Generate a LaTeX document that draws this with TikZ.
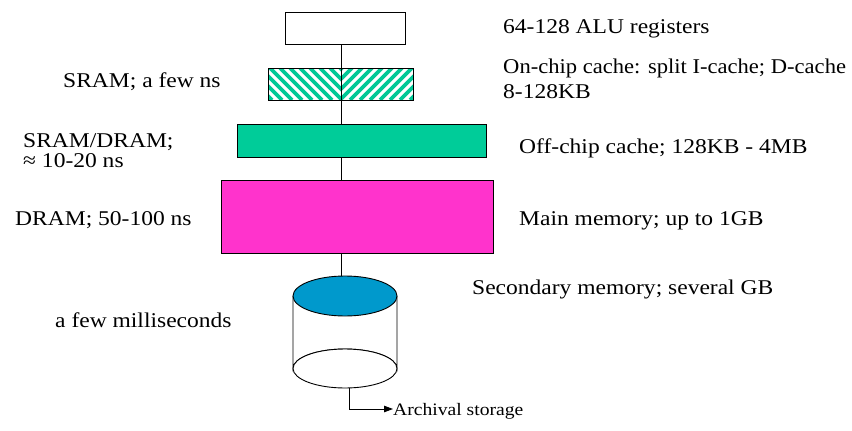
\documentclass[tikz,border=0pt]{standalone}
\usepackage{fontspec}
\setmainfont[FakeStretch=1.12]{Liberation Serif}
\newfontfamily\narrowserif[FakeStretch=1.075]{Liberation Serif}
\usetikzlibrary{arrows.meta}
\definecolor{hatchgreen}{HTML}{00C896}
\definecolor{cachegreen}{HTML}{00CC99}
\definecolor{mempink}{HTML}{FF33CC}
\definecolor{diskblue}{HTML}{0099CC}
\tikzset{
  box/.style={draw=black, line width=0.9pt, minimum width=#1, inner sep=0pt},
  lbl/.style={anchor=base west, inner sep=0pt, font=\fontsize{21}{25}\selectfont},
  small/.style={anchor=base west, inner sep=0pt, font=\fontsize{17.5}{21}\selectfont},
  wire/.style={draw=black, line width=0.9pt},
  stripe/.style={draw=hatchgreen, line width=3.6pt}
}
\begin{document}
\begin{tikzpicture}[x=1pt,y=-1pt]
\useasboundingbox (0,0) rectangle (852,431);
% registers
\node[box=120pt, minimum height=32pt, fill=white] (reg) at (345,28) {};
% hatched on-chip cache
\begin{scope}
  \clip (268,68) rectangle (341,100);
  \foreach \a in {230,240,...,350} { \draw[stripe] (\a,68) -- ++(32,32); }
\end{scope}
\begin{scope}
  \clip (341,68) rectangle (413,100);
  \foreach \a in {300,310,...,420} { \draw[stripe] (\a,100) -- ++(32,-32); }
\end{scope}
\node[box=145pt, minimum height=32pt] (l1) at (340.5,84) {};
% off-chip cache
\node[box=249pt, minimum height=33pt, fill=cachegreen] (l2) at (361.5,140.5) {};
% main memory
\node[box=272pt, minimum height=73pt, fill=mempink] (mem) at (357,216.5) {};
% disk (cylinder)
\draw[wire, fill=white] (293,296) -- (293,368.5) arc[start angle=180, end angle=360, x radius=52, y radius=19.5] -- (397,296);
\draw[wire, fill=white] (345,368.5) ellipse[x radius=52, y radius=19.5];
\draw[wire, fill=diskblue] (345,296) ellipse[x radius=52, y radius=20];
\coordinate (disktop) at (341,276);
\coordinate (diskbot) at (349,388);
% bus
\coordinate (bus) at (341,0);
\draw[wire] (bus |- reg.south) -- (bus |- l1.north);
\draw[wire] (bus |- l1.north) -- (bus |- l1.south);
\draw[wire] (bus |- l1.south) -- (bus |- l2.north);
\draw[wire] (bus |- l2.south) -- (bus |- mem.north);
\draw[wire] (bus |- mem.south) -- (disktop);
% archival
\node[small] (arch) at (393,415) {Archival storage};
\draw[wire, -{Triangle[length=9pt,width=6.5pt]}] (diskbot) |- (arch.west |- 0,409);
% right labels
\node[lbl] (t1) at (503,34) {64-128 ALU registers};
\node[lbl, font=\fontsize{21}{25}\narrowserif] (t2a) at (503,73) {On-chip cache: split I-cache; D-cache};
\node[lbl] (t2b) at (503,98) {8-128KB};
\node[lbl] (t3) at (519,153) {Off-chip cache; 128KB - 4MB};
\node[lbl] (t4) at (519,225) {Main memory; up to 1GB};
\node[lbl] (t5) at (472,294) {Secondary memory; several GB};
% left labels
\node[lbl] (s1) at (63,87) {SRAM; a few ns};
\node[lbl] (s2a) at (23,147) {SRAM/DRAM;};
\node[lbl] (s2b) at (23,167) {≈ 10-20 ns};
\node[lbl] (s3) at (15,225) {DRAM; 50-100 ns};
\node[lbl] (s4) at (55,327) {a few milliseconds};
\end{tikzpicture}
\end{document}
